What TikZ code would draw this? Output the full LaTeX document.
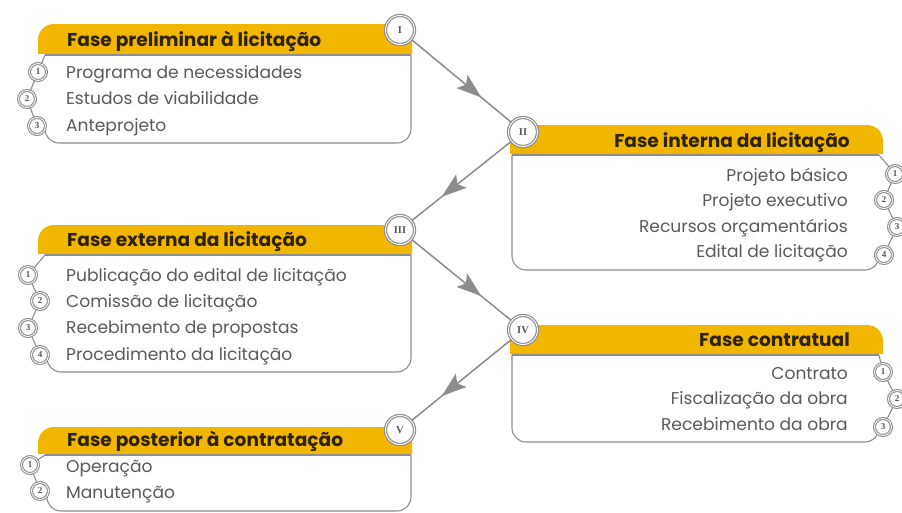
\documentclass[tikz,border=0pt]{standalone}
\usepackage{fontspec}
\setmainfont{Poppins}
\newfontfamily\numfont{Liberation Serif}
\usetikzlibrary{arrows.meta,decorations.markings}
\definecolor{hdryellow}{HTML}{F1B600}
\definecolor{hdrtextc}{HTML}{2E2200}
\definecolor{itemc}{HTML}{5A5A5A}
\definecolor{ringc}{HTML}{8E8E8E}
\definecolor{numc}{HTML}{555555}
\definecolor{linec}{HTML}{8C8C8C}
\begin{document}
\begin{tikzpicture}[x=1pt,y=-1pt,
  hdrtext/.style={font=\bfseries\fontsize{18.6}{18.6}\selectfont, text=hdrtextc, inner sep=0pt},
  item/.style={font=\fontsize{17.1}{17.5}\selectfont, text=itemc, inner sep=0pt},
  bignum/.style={circle, draw=ringc, line width=1.2pt, double=white, double distance=0.9pt, fill=white, minimum size=29pt, inner sep=0pt, font=\numfont\bfseries\fontsize{10.5}{10.5}\selectfont, text=numc},
  smallnum/.style={circle, draw=ringc, line width=1.1pt, double=white, double distance=0.8pt, fill=white, minimum size=17pt, inner sep=0pt, font=\numfont\bfseries\fontsize{9}{9}\selectfont, text=numc},
  bodyline/.style={draw=ringc, line width=1.1pt},
  chainline/.style={draw=ringc, line width=1.1pt},
  flow/.style={draw=linec, line width=1.5pt, postaction={decorate},
    decoration={markings, mark=at position 0.7 with {\arrow{Stealth[length=25pt,width=17pt,inset=5pt]}}}},
]
\useasboundingbox (0,0) rectangle (902,512);
\fill[white] (0,0) rectangle (902,512);

% ---------- Box 1 ----------
\begin{scope}\clip (38,24) rectangle (412,53);
\fill[hdryellow, rounded corners=16pt] (38,24) rectangle (440,80);\end{scope}
\draw[bodyline] (45,55) -- (411,55);
\draw[bodyline, rounded corners=14pt] (411,55) -- (411,143) -- (45,143) -- (45,130);
\node[hdrtext, anchor=base west] (h1) at (67,46.5) {Fase preliminar à licitação};
\node[item, anchor=base west] (a11) at (66,78) {Programa de necessidades};
\node[item, anchor=base west] (a12) at (66,104.5) {Estudos de viabilidade};
\node[item, anchor=base west] (a13) at (66,131) {Anteprojeto};
\coordinate (t1) at (45,55);
\node[smallnum] (n11) at (38,72) {1};
\node[smallnum] (n12) at (27,99) {2};
\node[smallnum] (n13) at (37,126) {3};
\draw[chainline] (t1) -- (n11);
\draw[chainline] (n11) -- (n12);
\draw[chainline] (n12) -- (n13);

% ---------- Box 2 ----------
\begin{scope}\clip (510,125) rectangle (883,153);
\fill[hdryellow, rounded corners=16pt] (480,125) rectangle (883,180);\end{scope}
\draw[bodyline] (512,155) -- (879,155);
\draw[bodyline, rounded corners=14pt] (512,155) -- (512,270) -- (879,270) -- (879,262);
\node[hdrtext, anchor=base east] (h2) at (850,147.5) {Fase interna da licitação};
\node[item, anchor=base east] (a21) at (848,181) {Projeto básico};
\node[item, anchor=base east] (a22) at (848,206.5) {Projeto executivo};
\node[item, anchor=base east] (a23) at (848,232) {Recursos orçamentários};
\node[item, anchor=base east] (a24) at (848,257.5) {Edital de licitação};
\coordinate (t2) at (879,155);
\node[smallnum] (n21) at (895,174) {1};
\node[smallnum] (n22) at (884,200) {2};
\node[smallnum] (n23) at (897,227) {3};
\node[smallnum] (n24) at (884,255) {4};
\draw[chainline] (t2) -- (n21);
\draw[chainline] (n21) -- (n22);
\draw[chainline] (n22) -- (n23);
\draw[chainline] (n23) -- (n24);

% ---------- Box 3 ----------
\begin{scope}\clip (38,225) rectangle (412,253);
\fill[hdryellow, rounded corners=16pt] (38,225) rectangle (440,280);\end{scope}
\draw[bodyline] (45,255) -- (411,255);
\draw[bodyline, rounded corners=14pt] (411,255) -- (411,372) -- (47,372) -- (47,359);
\node[hdrtext, anchor=base west] (h3) at (67,246.5) {Fase externa da licitação};
\node[item, anchor=base west] (a31) at (66,281) {Publicação do edital de licitação};
\node[item, anchor=base west] (a32) at (66,307.5) {Comissão de licitação};
\node[item, anchor=base west] (a33) at (66,333.5) {Recebimento de propostas};
\node[item, anchor=base west] (a34) at (66,360) {Procedimento da licitação};
\coordinate (t3) at (45,255);
\node[smallnum] (n31) at (28,275) {1};
\node[smallnum] (n32) at (40,301) {2};
\node[smallnum] (n33) at (28,328) {3};
\node[smallnum] (n34) at (40,355) {4};
\draw[chainline] (t3) -- (n31);
\draw[chainline] (n31) -- (n32);
\draw[chainline] (n32) -- (n33);
\draw[chainline] (n33) -- (n34);

% ---------- Box 4 ----------
\begin{scope}\clip (510,325) rectangle (883,353);
\fill[hdryellow, rounded corners=16pt] (480,325) rectangle (883,380);\end{scope}
\draw[bodyline] (512,355) -- (879,355);
\draw[bodyline, rounded corners=14pt] (512,355) -- (512,442) -- (879,442) -- (879,433);
\node[hdrtext, anchor=base east] (h4) at (850,346.5) {Fase contratual};
\node[item, anchor=base east] (a41) at (848,379) {Contrato};
\node[item, anchor=base east] (a42) at (848,404.5) {Fiscalização da obra};
\node[item, anchor=base east] (a43) at (848,430) {Recebimento da obra};
\coordinate (t4) at (879,355);
\node[smallnum] (n41) at (883,372) {1};
\node[smallnum] (n42) at (897,399) {2};
\node[smallnum] (n43) at (883,427) {3};
\draw[chainline] (t4) -- (n41);
\draw[chainline] (n41) -- (n42);
\draw[chainline] (n42) -- (n43);

% ---------- Box 5 ----------
\begin{scope}\clip (38,427) rectangle (412,453);
\fill[hdryellow, rounded corners=16pt] (38,427) rectangle (440,480);\end{scope}
\draw[bodyline] (45,455) -- (411,455);
\draw[bodyline, rounded corners=14pt] (411,455) -- (411,511) -- (47,511) -- (47,498);
\node[hdrtext, anchor=base west] (h5) at (67,446.5) {Fase posterior à contratação};
\node[item, anchor=base west] (a51) at (66,472) {Operação};
\node[item, anchor=base west] (a52) at (66,498) {Manutenção};
\coordinate (t5) at (45,455);
\node[smallnum] (n51) at (30,465) {1};
\node[smallnum] (n52) at (40,491) {2};
\draw[chainline] (t5) -- (n51);
\draw[chainline] (n51) -- (n52);

% ---------- Phase circles and flow ----------
\node[bignum] (r1) at (400,30) {I};
\node[bignum] (r2) at (523,132) {II};
\node[bignum] (r3) at (400,230) {III};
\node[bignum] (r4) at (523,330) {IV};
\node[bignum] (r5) at (400,430) {V};
\draw[flow] (r1) -- (r2);
\draw[flow] (r2) -- (r3);
\draw[flow] (r3) -- (r4);
\draw[flow] (r4) -- (r5);
\end{tikzpicture}
\end{document}
